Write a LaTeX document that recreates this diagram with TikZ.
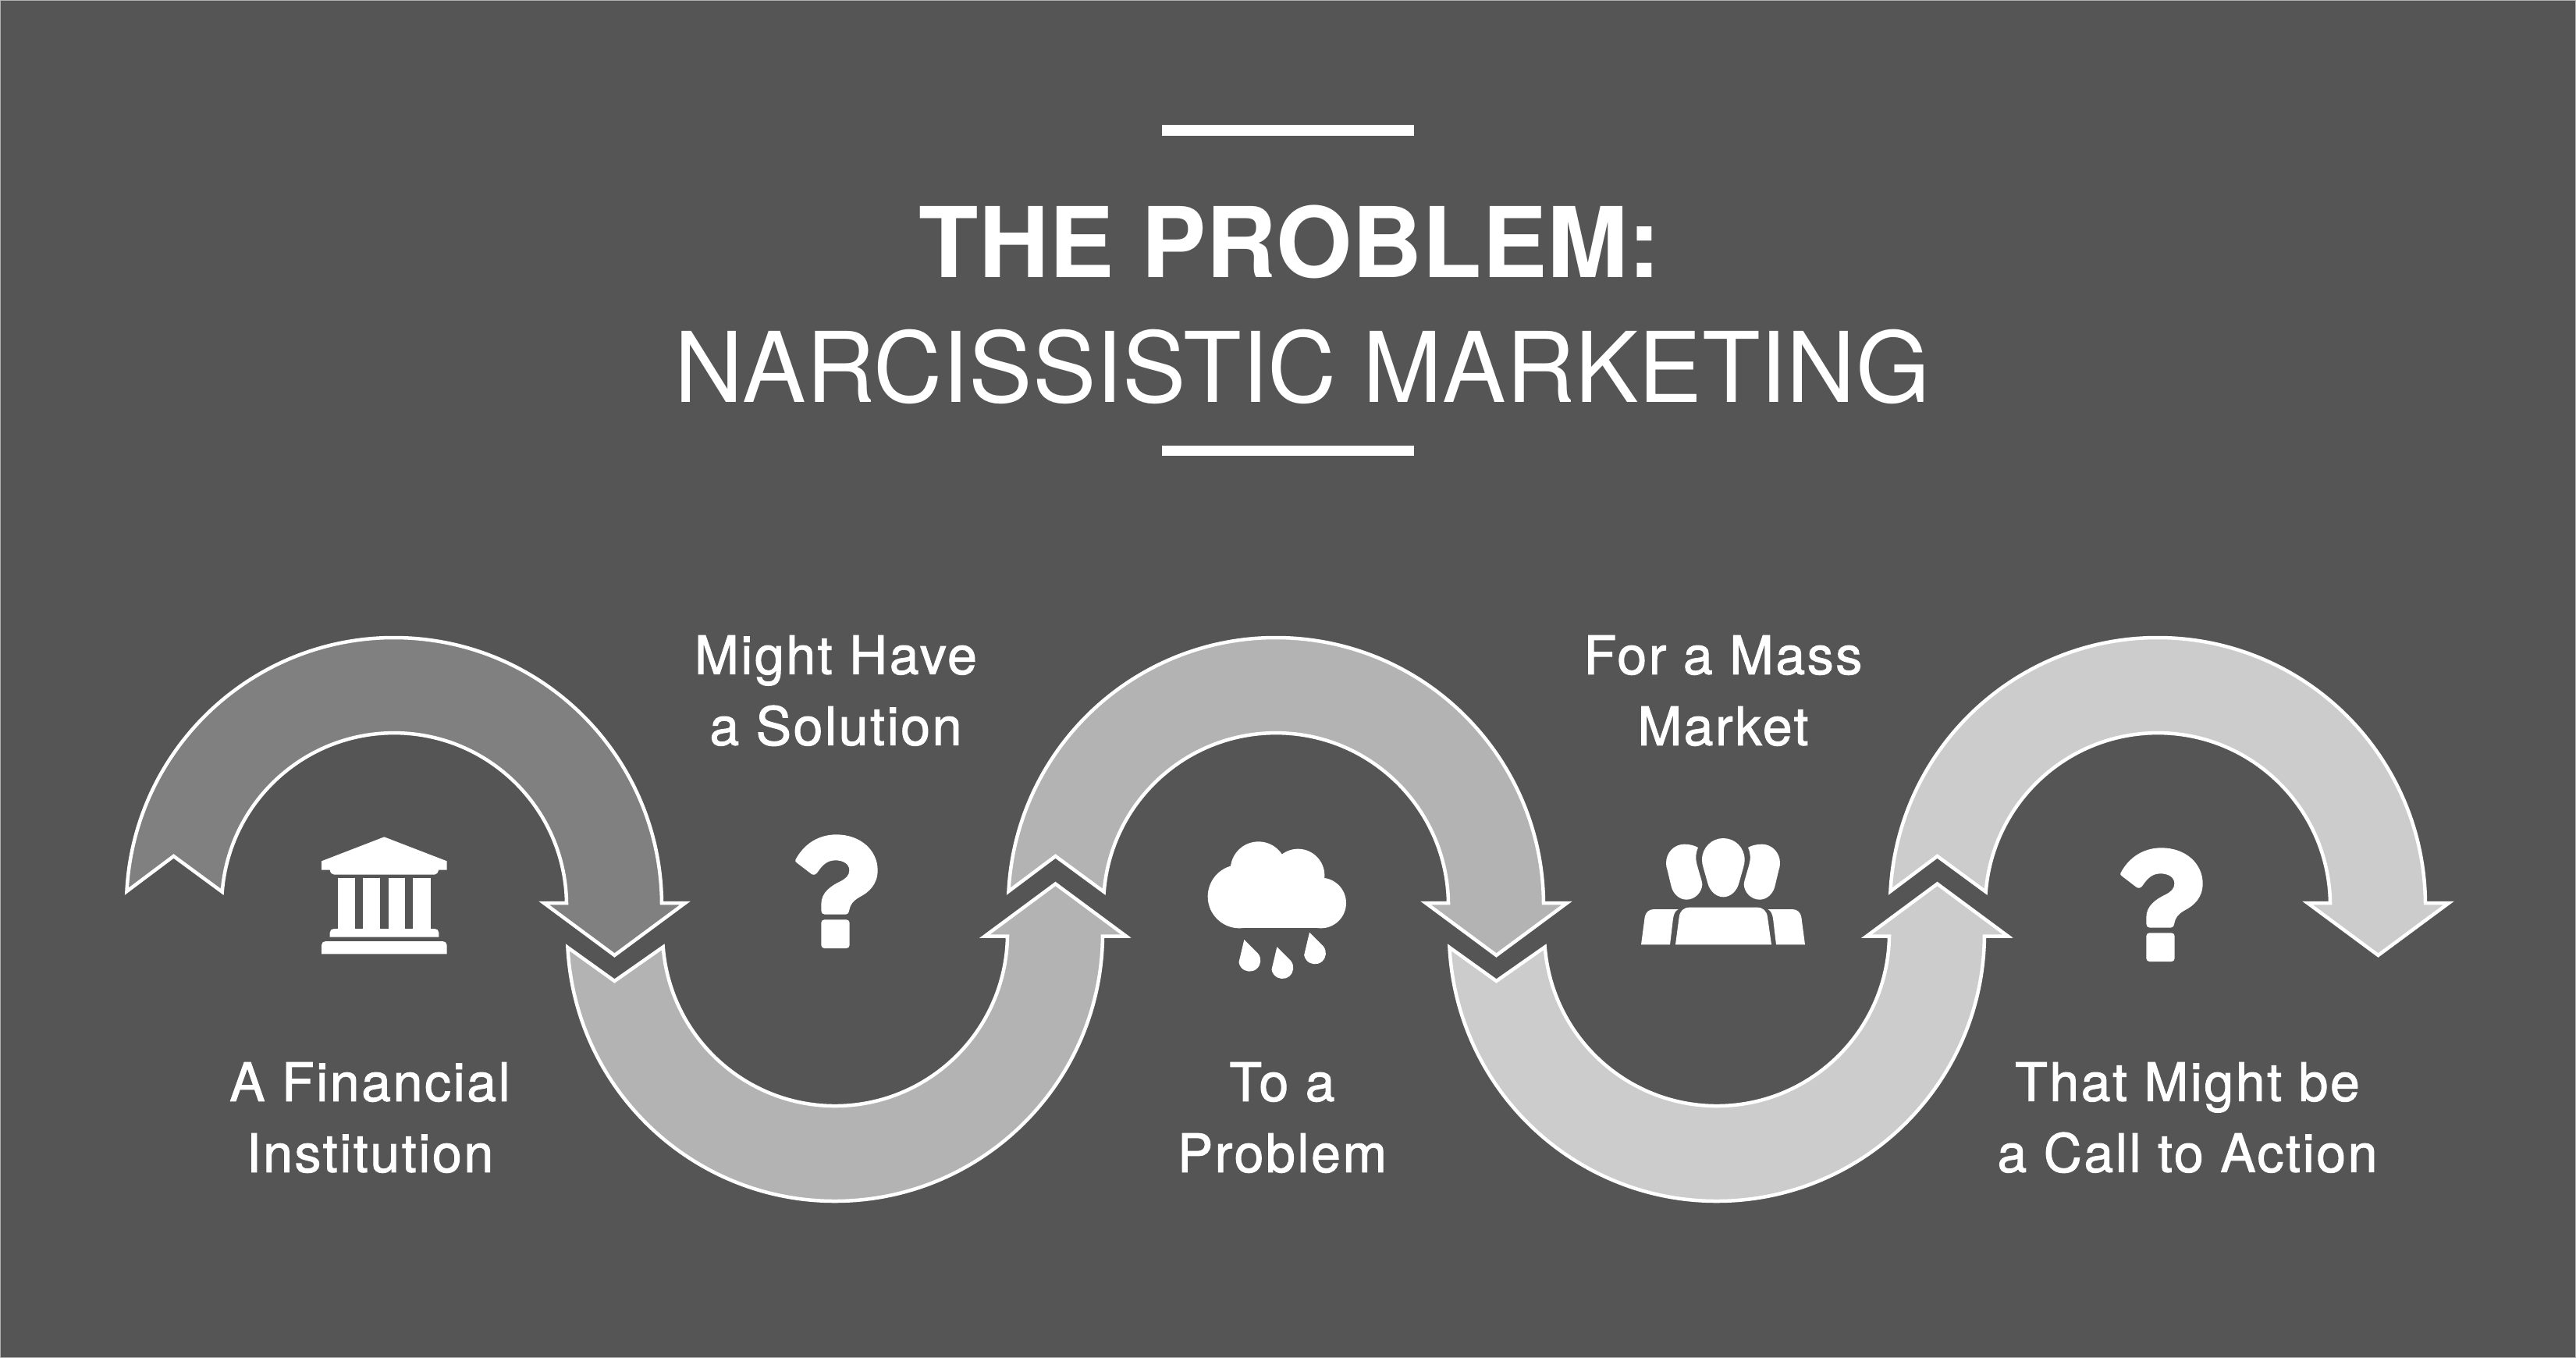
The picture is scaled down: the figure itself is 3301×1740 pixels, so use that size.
\documentclass[tikz,border=0pt]{standalone}
\usepackage{fontspec}
\setmainfont{TeX Gyre Heros}
\newfontfamily\labfont[LetterSpace=3.8,FakeBold=1.5]{TeX Gyre Heros}
\newfontfamily\subfont[FakeStretch=0.977]{TeX Gyre Heros}
\definecolor{bgc}{HTML}{555555}
\definecolor{aone}{HTML}{808080}
\definecolor{atwo}{HTML}{B3B3B3}
\definecolor{afour}{HTML}{CCCCCC}
\tikzset{
  flow/.style={draw=white,line width=4.5pt,miter limit=10,line join=miter},
  lab/.style={text=white,align=center,font=\labfont\fontsize{68}{91}\selectfont,inner sep=0pt},
  ico/.style={fill=white,draw=none},
  bar/.style={fill=white,draw=none}
}
% #1 head base y, #2 outer arc end angle, #3 inner arc end angle, #4 notch y
\newcommand{\flowarrow}[4]{%
  (183:343) arc[start angle=183,end angle=#2,radius=343]
  -- (373,#1) -- (282.5,#1+67) -- (192,#1) -- (221,#1)
  arc[start angle=#3,end angle=184.5,radius=221]
  -- (-282.5,#4) -- cycle}
\newcommand{\qmark}{%
  \fill[ico] (118,185) .. controls (150,125) and (205,88) .. (275,88)
   .. controls (370,88) and (434,150) .. (434,225)
   .. controls (434,280) and (400,310) .. (365,328)
   .. controls (340,342) and (328,358) .. (325,378)
   .. controls (323,390) and (318,395) .. (308,395)
   -- (230,395) .. controls (222,395) and (217,388) .. (217,380)
   -- (217,355) .. controls (217,310) and (255,285) .. (290,268)
   .. controls (312,257) and (325,245) .. (325,225)
   .. controls (325,200) and (300,187) .. (272,187)
   .. controls (240,187) and (222,205) .. (205,230)
   .. controls (198,242) and (188,245) .. (180,240)
   -- (125,198) .. controls (118,193) and (115,190) .. (118,185) -- cycle;
  \fill[ico,rounded corners=4pt] (217,415) rectangle (326,525);}
\begin{document}
\begin{tikzpicture}[x=1pt,y=-1pt]
\useasboundingbox (0,0) rectangle (3301,1740);
\fill[bgc] (0,0) rectangle (3301,1740);
% title
\fill[bar] (1489,160) rectangle (1812,174);
\fill[bar] (1489,571) rectangle (1812,584);
\node[text=white,inner sep=0pt,font=\fontsize{125}{125}\selectfont\bfseries] (t1) at (1653,310) {THE PROBLEM:};
\node[text=white,inner sep=0pt,font=\subfont\fontsize{125}{125}\selectfont] (t2) at (1669,470) {NARCISSISTIC MARKETING};
% arrows
\begin{scope}[shift={(505,1160)}]\draw[flow,fill=aone] \flowarrow{-3}{359.5}{359.2}{-63};\end{scope}
\begin{scope}[shift={(1070,1196)},yscale=-1]\draw[flow,fill=atwo] \flowarrow{-3.5}{359.4}{359.1}{-61};\end{scope}
\begin{scope}[shift={(1635,1160)}]\draw[flow,fill=atwo] \flowarrow{-3}{359.5}{359.2}{-63};\end{scope}
\begin{scope}[shift={(2200,1196)},yscale=-1]\draw[flow,fill=afour] \flowarrow{-3.5}{359.4}{359.1}{-61};\end{scope}
\begin{scope}[shift={(2765,1160)}]\draw[flow,fill=afour] \flowarrow{-3}{359.5}{359.2}{-63};\end{scope}
% labels
\node[lab] (l1) at (474,1432) {A Financial\\Institution};
\node[lab] (l2) at (1071,885) {Might Have\\a Solution};
\node[lab] (l3) at (1643,1432) {To a\\Problem};
\node[lab] (l4) at (2208,885) {For a Mass\\Market};
\node[lab] (l5) at (2803,1432) {That Might be\\a Call to Action};
% bank
\begin{scope}[shift={(360,1040)},scale=1/3]
 \fill[ico] (397,97) -- (638,190) -- (638,224) -- (606,224) .. controls (604,235) and (598,242) .. (590,242)
   -- (205,242) .. controls (196,242) and (190,235) .. (188,224) -- (156,224) -- (156,190) -- cycle;
 \fill[ico] (220,256) rectangle (285,455);
 \fill[ico] (316,256) rectangle (381,455);
 \fill[ico] (413,256) rectangle (478,455);
 \fill[ico] (508,256) rectangle (575,455);
 \fill[ico] (188,482) -- (188,465) .. controls (188,456) and (195,450) .. (204,450) -- (591,450) .. controls (600,450) and (607,456) .. (607,465) -- (607,482) -- cycle;
 \fill[ico] (156,547) -- (156,513) .. controls (156,504) and (163,498) .. (172,498) -- (622,498) .. controls (631,498) and (638,504) .. (638,513) -- (638,547) -- cycle;
\end{scope}
% question 1
\begin{scope}[shift={(980,1040)},scale=1/3]\qmark\end{scope}
% cloud
\begin{scope}[shift={(1500,1050)},scale=1/3]
 \fill[ico] (265,296) circle[radius=122];
 \fill[ico] (338,193) circle[radius=108];
 \fill[ico] (490,215) circle[radius=102];
 \fill[ico] (578,321) circle[radius=97];
 \fill[ico] (265,200) rectangle (578,418);
 \foreach \cx/\cy in {304/542,430/570,555/514}{
  \begin{scope}[shift={(\cx,\cy)}]
  \fill[ico] (-21,-80) -- (32,-27) arc[start angle=-40,end angle=170,radius=42] -- cycle;
  \end{scope}}
\end{scope}
% people
\begin{scope}[shift={(2060,1050)},scale=1/3]
 \fill[ico] (445,72) .. controls (490,72) and (527,108) .. (527,155) .. controls (527,165) and (525,175) .. (522,185) -- (505,245) .. controls (497,275) and (473,298) .. (445,298) .. controls (417,298) and (393,275) .. (385,245) -- (368,185) .. controls (365,175) and (363,165) .. (363,155) .. controls (363,108) and (400,72) .. (445,72) -- cycle;
 \foreach \m/\o in {1/0,-1/888}{
 \begin{scope}[shift={(\o,0)},xscale=\m]
 \fill[ico] (348,108) .. controls (335,100) and (315,95) .. (295,95) .. controls (255,95) and (225,128) .. (225,168) .. controls (225,178) and (227,187) .. (230,195) -- (245,258) .. controls (252,285) and (275,308) .. (303,308) .. controls (335,308) and (362,282) .. (364,250) .. controls (364,243) and (362,237) .. (360,230) -- (345,178) .. controls (337,150) and (338,130) .. (348,108) -- cycle;
 \fill[ico] (129,481) -- (143,375) .. controls (146,358) and (158,345) .. (178,345) -- (272,345) .. controls (258,352) and (255,365) .. (252,380) -- (240,481) -- cycle;
 \end{scope}}
 \fill[ico] (261,481) -- (275,375) .. controls (278,352) and (292,338) .. (315,338) -- (575,338) .. controls (598,338) and (612,352) .. (615,375) -- (630,481) -- cycle;
\end{scope}
% question 2
\begin{scope}[shift={(2678,1057)},scale=1/3]\qmark\end{scope}
% thin edge of the picture
\draw[draw=white!55!bgc,line width=2pt] (0,0) rectangle (3301,1740);
\end{tikzpicture}
\end{document}
